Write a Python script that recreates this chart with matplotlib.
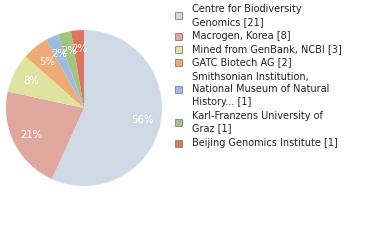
import matplotlib
matplotlib.use("Agg")
import matplotlib.pyplot as plt
from matplotlib.patches import Rectangle

labels = [
    "Centre for Biodiversity\nGenomics [21]",
    "Macrogen, Korea [8]",
    "Mined from GenBank, NCBI [3]",
    "GATC Biotech AG [2]",
    "Smithsonian Institution,\nNational Museum of Natural\nHistory... [1]",
    "Karl-Franzens University of\nGraz [1]",
    "Beijing Genomics Institute [1]",
]
counts = [21, 8, 3, 2, 1, 1, 1]
colors = ["#cfdae6", "#dfa79e", "#dee3a0", "#eeac74", "#9fbbe0", "#a0c67d", "#dd745f"]

W, H = 380, 240
fig = plt.figure(figsize=(W / 100, H / 100), dpi=100)

# pie centre (84,108) radius 78 in pixels
cx, cy, r = 84, 108, 78
ax = fig.add_axes([(cx - r) / W, (H - cy - r) / H, 2 * r / W, 2 * r / H])
wedges, texts, autotexts = ax.pie(
    counts, colors=colors, startangle=90, counterclock=False,
    autopct=lambda p: "%d%%" % int(p), pctdistance=0.76,
    wedgeprops=dict(linewidth=0),
    textprops=dict(color="white", fontsize=7.3),
)
ax.set_xlim(-1, 1)
ax.set_ylim(-1, 1)
ax.set_aspect("equal")

# legend drawn by hand
line_h = 12.4
y_top = [9.3, 36, 49, 62, 77, 116, 143]
for lab, col, yt in zip(labels, colors, y_top):
    n = lab.count("\n") + 1
    ymid = yt + (n - 1) * line_h / 2
    fig.patches.append(Rectangle(((174.5) / W, (H - ymid - 3.5) / H), 7 / W, 7 / H,
                                 transform=fig.transFigure, facecolor=col,
                                 edgecolor="#808080", linewidth=0.6))
    for i, part in enumerate(lab.split("\n")):
        fig.text(192 / W, (H - yt - i * line_h) / H, part, fontsize=7.0,
                 color="#222222", va="center", ha="left")

fig.savefig("out.png", dpi=100)
